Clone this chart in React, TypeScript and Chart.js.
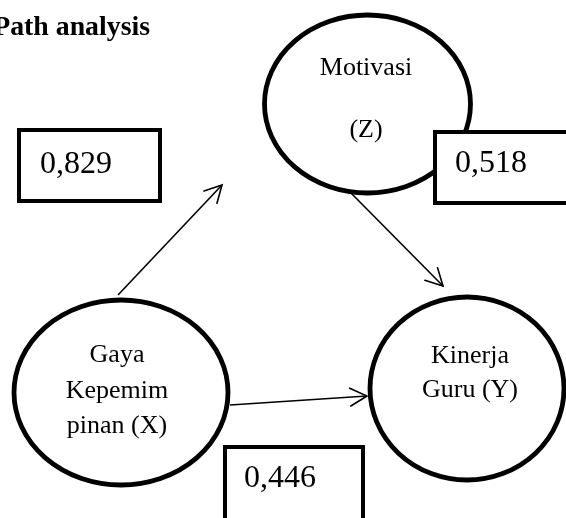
import React, { useEffect, useRef } from "react";
import { Chart, registerables } from "chart.js";

Chart.register(...registerables);

// ---- content ----
const titleText = "Path analysis";
const nodeLines: string[][] = [
  ["Motivasi", "", "(Z)"],
  ["Gaya", "Kepemim", "pinan (X)"],
  ["Kinerja", "Guru (Y)"],
];
const coefficientLabels = ["0,829", "0,518", "0,446"];

// ---- layout (in page units, mapped through the chart scales) ----
const nodeCenterX = [367.5, 121, 467];
const nodeCenterY = [104, 392.5, 388.5];
const nodeRadiusX = [103, 107, 97];
const nodeRadiusY = [89, 92.5, 91.5];
const nodeTextX = [366, 117, 470];
const nodeTextY0 = [75, 362, 363];
const nodeLineGap = [31, 35.5, 34];

const arrowStartX = [118, 350, 230];
const arrowStartY = [295, 192, 405];
const arrowEndX = [222, 443, 367];
const arrowEndY = [185, 286, 396];

const boxX = [19, 435, 225];
const boxY = [130, 132, 447];
const boxW = [141, 160, 138];
const boxH = [71, 71, 100];
const boxTextX = [40, 455, 244];
const boxTextY = [173, 172, 487];

const W = 566;
const H = 518;

export default function App() {
  const ref = useRef<HTMLCanvasElement | null>(null);

  useEffect(() => {
    document.body.style.margin = "0";
    const canvas = ref.current;
    if (!canvas) return;

    const diagramPlugin = {
      id: "pathDiagram",
      afterDatasetsDraw(chart: any) {
        const ctx: CanvasRenderingContext2D = chart.ctx;
        const xs = chart.scales.x;
        const ys = chart.scales.y;
        const px = (v: number) => xs.getPixelForValue(v);
        const py = (v: number) => ys.getPixelForValue(v);

        ctx.save();

        // arrowheads
        ctx.strokeStyle = "#000";
        ctx.lineWidth = 1.6;
        ctx.lineCap = "round";
        for (let i = 0; i < arrowEndX.length; i++) {
          const tx = px(arrowEndX[i]);
          const ty = py(arrowEndY[i]);
          const sx = px(arrowStartX[i]);
          const sy = py(arrowStartY[i]);
          const ang = Math.atan2(sy - ty, sx - tx);
          const len = 19;
          const spread = (28 * Math.PI) / 180;
          ctx.beginPath();
          ctx.moveTo(tx + len * Math.cos(ang + spread), ty + len * Math.sin(ang + spread));
          ctx.lineTo(tx, ty);
          ctx.lineTo(tx + len * Math.cos(ang - spread), ty + len * Math.sin(ang - spread));
          ctx.stroke();
        }

        // ellipses
        for (let i = 0; i < nodeCenterX.length; i++) {
          const cx = px(nodeCenterX[i]);
          const cy = py(nodeCenterY[i]);
          const rx = Math.abs(px(nodeCenterX[i] + nodeRadiusX[i]) - cx);
          const ry = Math.abs(py(nodeCenterY[i] + nodeRadiusY[i]) - cy);
          ctx.beginPath();
          ctx.ellipse(cx, cy, rx, ry, 0, 0, Math.PI * 2);
          ctx.fillStyle = "#fff";
          ctx.fill();
          ctx.lineWidth = 4.8;
          ctx.strokeStyle = "#000";
          ctx.stroke();

          ctx.fillStyle = "#000";
          ctx.font = "26px 'Liberation Serif', 'Times New Roman', serif";
          ctx.textAlign = "center";
          ctx.textBaseline = "alphabetic";
          nodeLines[i].forEach((line, k) => {
            if (!line) return;
            ctx.fillText(line, px(nodeTextX[i]), py(nodeTextY0[i] + k * nodeLineGap[i]));
          });
        }

        // coefficient boxes
        for (let i = 0; i < boxX.length; i++) {
          const x0 = px(boxX[i]);
          const y0 = py(boxY[i]);
          const x1 = px(boxX[i] + boxW[i]);
          const y1 = py(boxY[i] + boxH[i]);
          ctx.fillStyle = "#fff";
          ctx.fillRect(x0, y0, x1 - x0, y1 - y0);
          ctx.lineWidth = 4;
          ctx.lineJoin = "miter";
          ctx.strokeStyle = "#000";
          ctx.strokeRect(x0, y0, x1 - x0, y1 - y0);
          ctx.fillStyle = "#000";
          ctx.font = "32px 'Liberation Serif', 'Times New Roman', serif";
          ctx.textAlign = "left";
          ctx.textBaseline = "alphabetic";
          ctx.fillText(coefficientLabels[i], px(boxTextX[i]), py(boxTextY[i]));
        }

        // title (its first letter runs off the left edge, as in the source)
        ctx.fillStyle = "#000";
        ctx.font = "bold 100px 'Liberation Serif', 'Times New Roman', serif";
        const tail = ctx.measureText(titleText.slice(1)).width;
        const size = (100 * 140) / tail;
        ctx.font = `bold ${size.toFixed(1)}px 'Liberation Serif', 'Times New Roman', serif`;
        ctx.textAlign = "right";
        ctx.fillText(titleText, px(150), py(35));

        ctx.restore();
      },
    };

    const datasets = arrowStartX.map((_, i) => ({
      label: `path ${i + 1}`,
      data: [
        { x: arrowStartX[i], y: arrowStartY[i] },
        { x: arrowEndX[i], y: arrowEndY[i] },
      ],
      showLine: true,
      borderColor: "#000",
      borderWidth: 1.6,
      pointRadius: 0,
      fill: false,
    }));

    const chart = new Chart(canvas, {
      type: "scatter",
      data: { datasets },
      options: {
        animation: false,
        responsive: false,
        devicePixelRatio: 1,
        layout: { padding: 0 },
        events: [],
        scales: {
          x: { type: "linear", min: 0, max: W, display: false },
          y: { type: "linear", min: 0, max: H, reverse: true, display: false },
        },
        plugins: {
          legend: { display: false },
          tooltip: { enabled: false },
          title: { display: false },
        },
      },
      plugins: [diagramPlugin],
    });

    return () => chart.destroy();
  }, []);

  return (
    <div style={{ width: W, height: H, background: "#fff" }}>
      <canvas ref={ref} width={W} height={H} style={{ display: "block" }} />
    </div>
  );
}
